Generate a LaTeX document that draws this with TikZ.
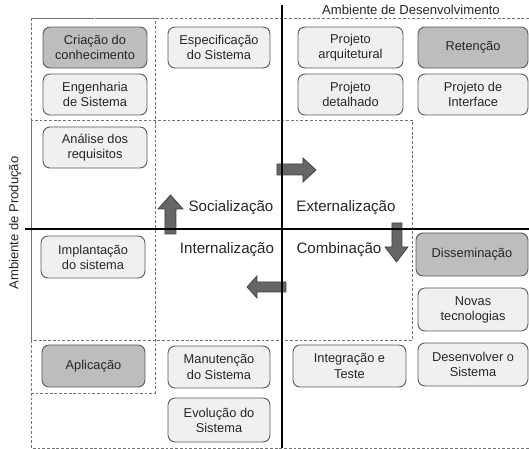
\documentclass[tikz,border=0pt]{standalone}
\usepackage{fontspec}
\setmainfont{Liberation Sans}
\usetikzlibrary{positioning}

\begin{document}
\begin{tikzpicture}[x=0.02cm, y=-0.02cm,
    etapa/.style={draw=black!65, fill=gray!12, rounded corners=1.4mm, align=center,
        font=\fontsize{7.3}{8.6}\selectfont, text=black!85, minimum width=2.08cm, minimum height=0.82cm,
        inner sep=1pt, line width=0.5pt},
    chave/.style={etapa, fill=gray!52},
    limite/.style={dash pattern=on 1.6pt off 1.1pt, black!55, line width=0.5pt},
    seta/.style={draw=black!75, fill=black!60, line width=0.4pt},
    modo/.style={font=\fontsize{8.6}{10}\selectfont, text=black!85}]

    \useasboundingbox (0,0) rectangle (529,449);

    % Dashed regions
    \draw[limite] (529,18) -- (31,18) -- (31,448) -- (529,448);
    \draw[limite] (31,18) rectangle (155,393);
    \draw[limite] (31,120) rectangle (412,340);

    % Block arrows
    \draw[seta] (165,234) -- (165,209) -- (158,209) -- (170.5,195) -- (183,209) -- (176,209) -- (176,234) -- cycle;
    \draw[seta] (277,164) -- (303,164) -- (303,158) -- (316,170) -- (303,182) -- (303,175) -- (277,175) -- cycle;
    \draw[seta] (392,223) -- (402,223) -- (402,247) -- (408,247) -- (396.5,262) -- (385,247) -- (392,247) -- cycle;
    \draw[seta] (286,282) -- (257,282) -- (257,276) -- (247,287) -- (257,298) -- (257,292) -- (286,292) -- cycle;

    % Axes
    \draw[line width=0.6pt] (25,229) -- (529,229);
    \draw[line width=0.6pt] (282,5) -- (282,448);

    % Axis labels
    \node[font=\fontsize{7.45}{9}\selectfont, text=black!85] (dev) at (411,10) {Ambiente de Desenvolvimento};
    \node[font=\fontsize{7.45}{9}\selectfont, text=black!85, rotate=90] (prod) at (15,223) {Ambiente de Produção};

    % Modes
    \node[modo] (soc) at (231,208) {Socialização};
    \node[modo] (ext) at (346,208) {Externalização};
    \node[modo] (int) at (227,250) {Internalização};
    \node[modo] (comb) at (339,250) {Combinação};

    % Stages
    \node[chave] (criacao) at (95,47.5) {Criação do\\conhecimento};
    \node[etapa] (engenharia) at (95,94.5) {Engenharia\\de Sistema};
    \node[etapa] (analise) at (95,147.5) {Análise dos\\requisitos};
    \node[etapa, minimum width=2.04cm] (especificacao) at (219,47.5) {Especificação\\do Sistema};
    \node[etapa, minimum width=2.1cm] (arquitetural) at (350.5,47.5) {Projeto\\arquitetural};
    \node[chave, minimum width=2.2cm] (retencao) at (473,47.5) {Retenção};
    \node[etapa, minimum width=2.1cm] (detalhado) at (350.5,94.5) {Projeto\\detalhado};
    \node[etapa, minimum width=2.2cm] (interface) at (473,94.5) {Projeto de\\Interface};
    \node[etapa, minimum height=0.84cm] (implantacao) at (93,257) {Implantação\\do sistema};
    \node[chave, minimum width=2.06cm, minimum height=0.84cm] (aplicacao) at (93.5,366) {Aplicação};
    \node[etapa, minimum width=2.04cm, minimum height=0.84cm] (manutencao) at (219,367) {Manutenção\\do Sistema};
    \node[etapa, minimum width=2.04cm, minimum height=0.88cm] (evolucao) at (219,420) {Evolução do\\Sistema};
    \node[etapa, minimum width=2.26cm, minimum height=0.84cm] (integracao) at (349.5,366) {Integração e\\Teste};
    \node[chave, minimum width=2.24cm, minimum height=0.86cm] (disseminacao) at (472,254.5) {Disseminação};
    \node[etapa, minimum width=2.2cm, minimum height=0.86cm] (novas) at (473,309.5) {Novas\\tecnologias};
    \node[etapa, minimum width=2.2cm, minimum height=0.86cm] (desenvolver) at (473,364.5) {Desenvolver o\\Sistema};

\end{tikzpicture}
\end{document}
